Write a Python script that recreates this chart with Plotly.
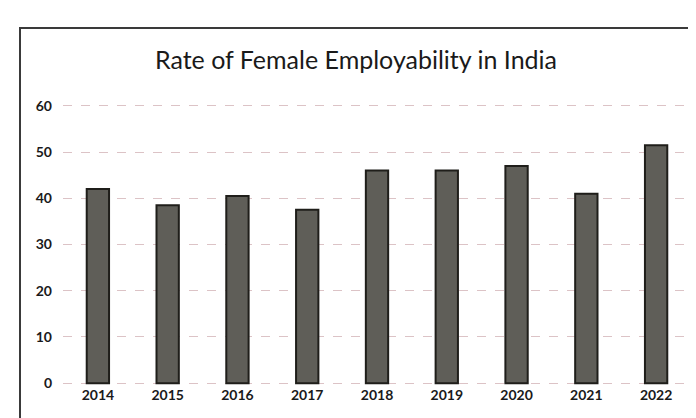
import plotly.graph_objects as go

years = ["2014", "2015", "2016", "2017", "2018", "2019", "2020", "2021", "2022"]
rates = [42, 38.5, 40.5, 37.5, 46, 46, 47, 41, 51.5]
y_ticks = [0, 10, 20, 30, 40, 50, 60]

W, H = 696, 418
ml, mr, mt, mb = 55, 13, 96, 41
pw, ph = W - ml - mr, H - mt - mb

fig = go.Figure(go.Bar(
    x=years, y=rates,
    marker=dict(color="#5f5e58", line=dict(color="#1f1e1a", width=2)),
))

def px_x(p):
    return (p - ml) / pw

def px_y(p):
    return (H - mb - p) / ph

font = "Lato, Open Sans, sans-serif"
fig.update_layout(
    width=W, height=H,
    margin=dict(l=ml, r=mr, t=mt, b=mb),
    paper_bgcolor="white", plot_bgcolor="white",
    bargap=0.68,
    showlegend=False,
    title=dict(text="Rate of Female Employability in India", x=0.5, xanchor="center",
               y=1 - 52 / H, yanchor="middle",
               font=dict(family=font, size=25, color="#1a1a1a")),
    xaxis=dict(showgrid=False, showline=False, ticks="",
               tickfont=dict(family=font, size=14, color="#1a1a1a", weight="bold")),
    yaxis=dict(range=[-0.4, 60.4], tickvals=y_ticks, showline=False, zeroline=False,
               gridcolor="#dcc3c6", griddash="dash", gridwidth=1,
               ticklabelstandoff=10,
               tickfont=dict(family=font, size=14, color="#1a1a1a", weight="bold")),
    shapes=[dict(type="rect", xref="paper", yref="paper",
                 x0=px_x(12), x1=px_x(720), y0=px_y(460), y1=px_y(20),
                 line=dict(color="#3a3a3a", width=2), fillcolor="rgba(0,0,0,0)", layer="below")],
)

fig.write_html("out.html")
